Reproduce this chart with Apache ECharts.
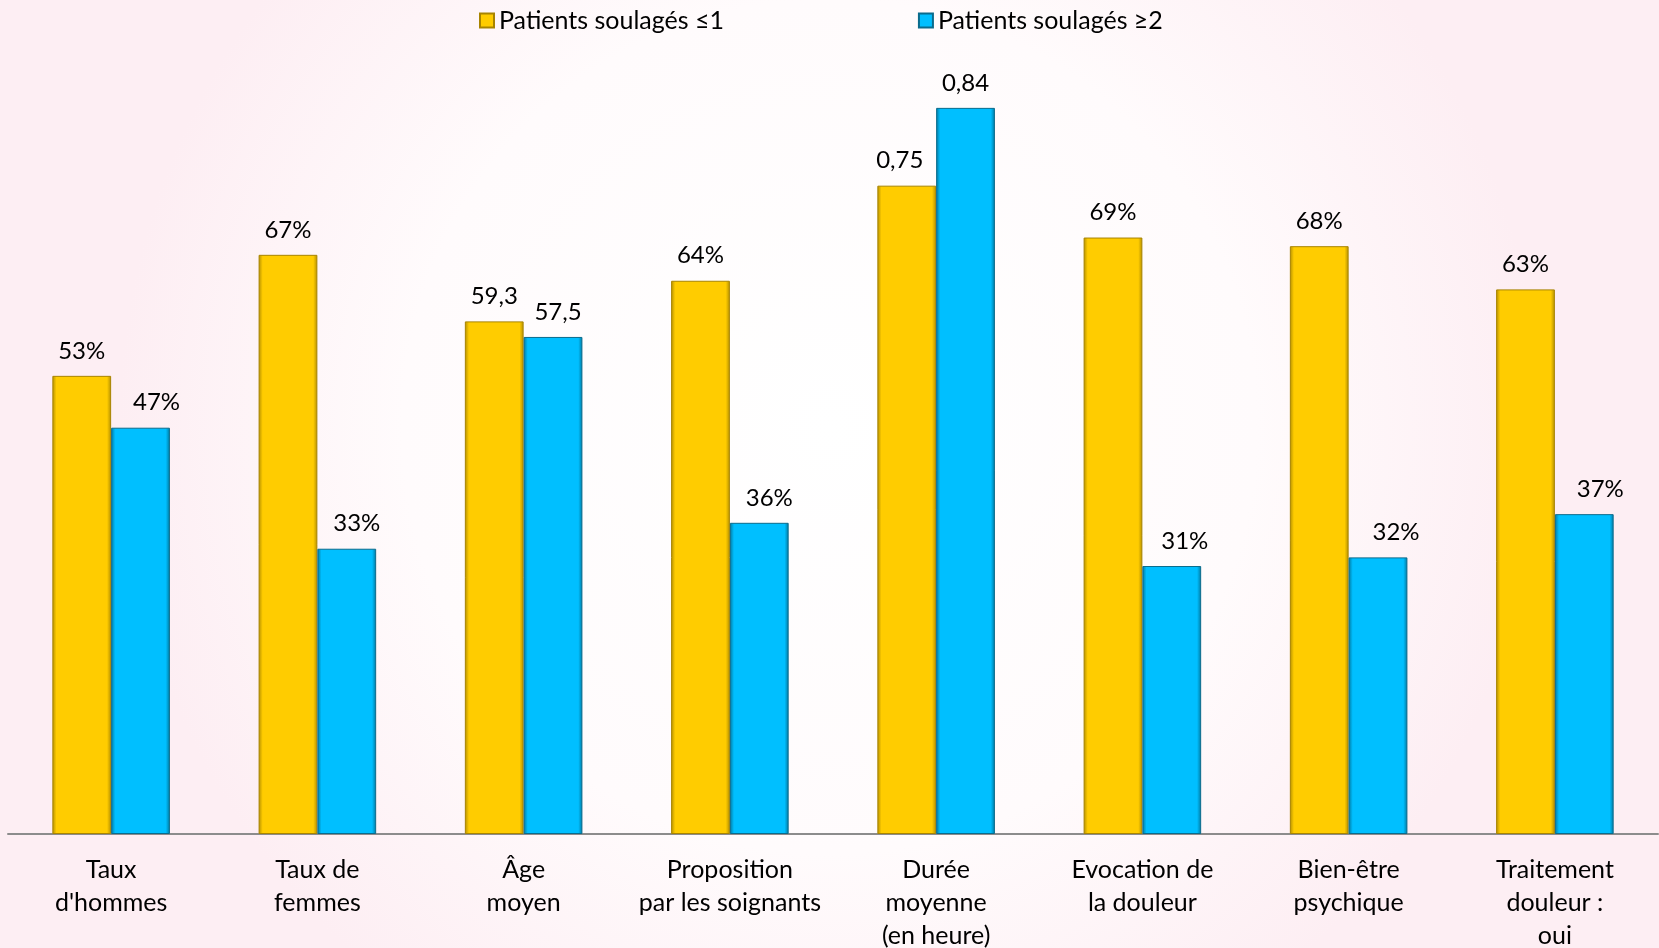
<!DOCTYPE html>
<html>
<head>
<meta charset="utf-8">
<script src="https://cdn.jsdelivr.net/npm/echarts@6/dist/echarts.min.js"></script>
<style>
  html, body { margin: 0; padding: 0; }
  #chart { width: 1659px; height: 948px; }
</style>
</head>
<body>
<div id="chart"></div>
<script>
// categories (x axis)
var categories = ["Taux\nd'hommes", "Taux de\nfemmes", "Âge\nmoyen", "Proposition\npar les soignants",
    "Durée\nmoyenne\n(en heure)", "Evocation de\nla douleur", "Bien-être\npsychique", "Traitement\ndouleur :\noui"];

/* hauteurs des barres (unité du graphique) */
var soulages1 = [53, 67, 59.3, 64, 75, 69, 68, 63];
var soulages2 = [47, 33, 57.5, 36, 84, 31, 32, 37];

/* étiquettes affichées au-dessus des barres */
var labels1 = ["53%", "67%", "59,3", "64%", "0,75", "69%", "68%", "63%"];
var labels2 = ["47%", "33%", "57,5", "36%", "0,84", "31%", "32%", "37%"];

var seriesNames = ["Patients soulagés ≤1", "Patients soulagés ≥2"];

// petits décalages des étiquettes (placées à la main dans l'original)
var shift1 = [0, 0, 0, 0, -7, 0, 0, 0];
var shift2 = [16, 10, 5, 10, 0, 13, 18, 16];

function bevel(dark, main) {
    return new echarts.graphic.LinearGradient(0, 0, 1, 0, [
        {offset: 0, color: dark},
        {offset: 0.07, color: main},
        {offset: 0.93, color: main},
        {offset: 1, color: dark}
    ]);
}

function withLabels(values, texts, shifts) {
    return values.map(function (v, i) {
        return {value: v, label: {formatter: texts[i], offset: [shifts[i], 0]}};
    });
}

var chart = echarts.init(document.getElementById("chart"));

var font = "Lato, 'Open Sans', sans-serif";

var option = {
    backgroundColor: new echarts.graphic.RadialGradient(0.5, 0.45, 0.75, [
        {offset: 0, color: '#ffffff'},
        {offset: 0.6, color: '#fffbfc'},
        {offset: 1, color: '#fdeef3'}
    ]),
    textStyle: {fontFamily: font},
    legend: {
        top: 3,
        left: 474,
        itemGap: 194,
        itemWidth: 14,
        itemHeight: 14,
        icon: 'rect',
        textStyle: {fontSize: 25, color: '#000', fontFamily: font},
        data: seriesNames
    },
    grid: {left: 8, right: 1, top: 56, bottom: 114, containLabel: false, outerBoundsMode: 'none'},
    xAxis: {
        type: 'category',
        data: categories,
        axisLine: {lineStyle: {color: '#8c8c8c', width: 2}},
        axisTick: {show: false},
        axisLabel: {
            interval: 0,
            margin: 19,
            fontSize: 25,
            lineHeight: 33,
            color: '#000',
            fontFamily: font
        }
    },
    yAxis: {
        type: 'value',
        min: 0,
        max: 90,
        show: false,
        splitLine: {show: false}
    },
    series: [
        {
            name: seriesNames[0],
            type: 'bar',
            data: withLabels(soulages1, labels1, shift1),
            barGap: '0%',
            barCategoryGap: '43%',
            itemStyle: {
                color: bevel('#b38f00', '#ffcc00'),
                borderColor: '#a88400',
                borderWidth: 1
            },
            label: {
                show: true,
                position: 'top',
                distance: 13,
                fontSize: 24,
                color: '#000',
                fontFamily: font
            }
        },
        {
            name: seriesNames[1],
            type: 'bar',
            data: withLabels(soulages2, labels2, shift2),
            itemStyle: {
                color: bevel('#00789f', '#00bfff'),
                borderColor: '#0a6b8c',
                borderWidth: 1
            },
            label: {
                show: true,
                position: 'top',
                distance: 13,
                fontSize: 24,
                color: '#000',
                fontFamily: font
            }
        }
    ]
};

chart.setOption(option);
</script>
</body>
</html>
